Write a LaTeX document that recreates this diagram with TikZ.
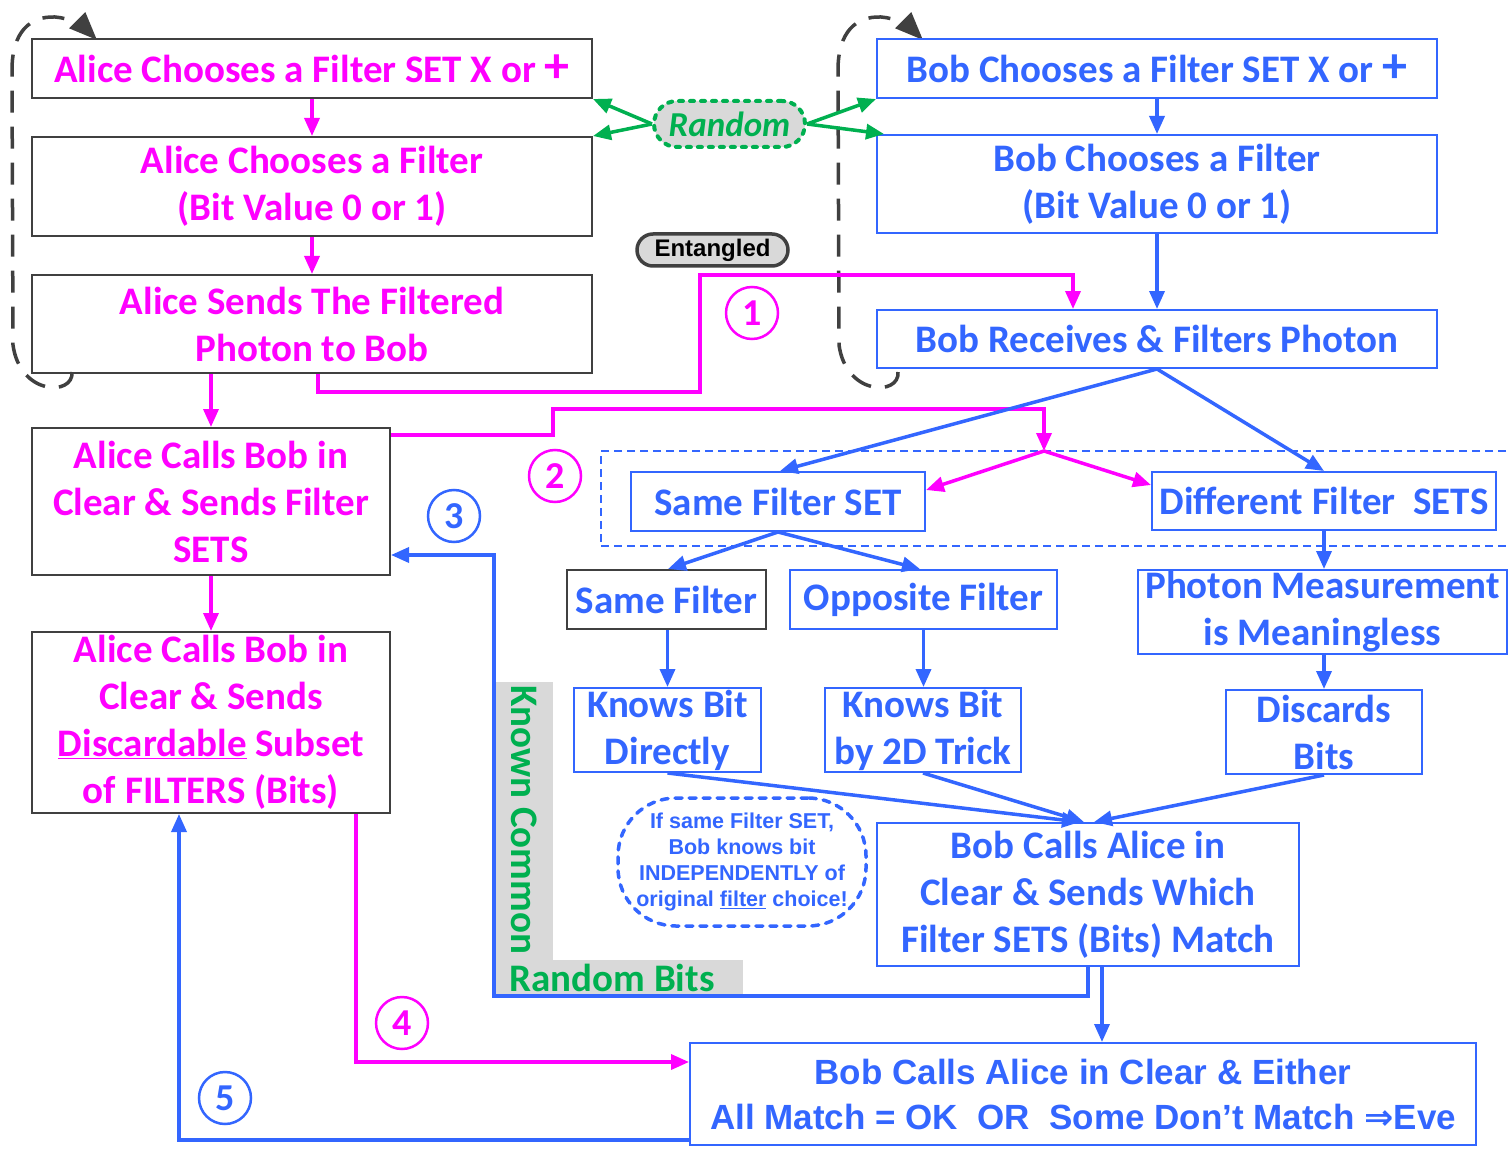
\documentclass[tikz,border=0pt]{standalone}
\usepackage{fontspec}
\setmainfont{Carlito}
\newfontfamily\arialf{Liberation Sans}
\newfontfamily\djv{DejaVu Sans}
\usetikzlibrary{arrows.meta,calc,shapes.geometric}
\definecolor{mag}{HTML}{FF00FF}
\definecolor{bblue}{HTML}{3366FF}
\definecolor{grn}{HTML}{00B050}
\definecolor{dgray}{HTML}{404040}
\definecolor{lgray}{HTML}{D9D9D9}
\newcommand{\bigplus}{{\fontsize{50}{47}\selectfont +}}
\begin{document}
\begin{tikzpicture}[x=1pt,y=-1pt,
  font=\bfseries\fontsize{39}{47}\selectfont,
  box/.style={rectangle, draw, line width=2pt, inner sep=0pt, align=center},
  abox/.style={box, draw=dgray, text=mag},
  bbox/.style={box, draw=bblue, text=bblue},
  tip/.style={-{Triangle[length=18pt,width=15pt]}},
  marr/.style={draw=mag, line width=3.5pt, tip},
  barr/.style={draw=bblue, line width=3.5pt, tip},
  garr/.style={draw=grn, line width=3.5pt, tip},
  num/.style={circle, draw, line width=2.5pt, minimum size=52pt, inner sep=0pt, font=\bfseries\fontsize{38}{38}\selectfont},
  brk/.style={draw=dgray, line width=3.5pt, dash pattern=on 22pt off 14pt, -{Triangle[length=28pt,width=22pt]}},
]
\useasboundingbox (0,0) rectangle (1509,1150);
\fill[white] (0,0) rectangle (1509,1150);

% brackets
\foreach \dx in {0,826}{
  \begin{scope}[xshift=\dx pt]
  \draw[brk] (72,372) .. controls (74,396) and (20,396) .. (13,345) -- (12,70) .. controls (12,32) and (30,16) .. (55,17) .. controls (70,18) and (84,27) .. (97,40);
  \end{scope}
}

% dashed grouping box
\node[draw=bblue, line width=1.3pt, dash pattern=on 8pt off 5pt, minimum width=912pt, minimum height=95pt, inner sep=0pt] (grp) at (1057,498.5) {};

% gray known common random bits
\fill[lgray] (496,682) rectangle (553,960);
\fill[lgray] (496,960) rectangle (743,995);
\node[text=grn, rotate=-90] (kc) at (524,820) {Known Common};
\node[text=grn] (rb) at (612,978) {Random Bits};

% Alice boxes
\node[abox, minimum width=560pt, minimum height=59pt] (A1) at (312,68.5) {Alice Chooses a Filter SET X or \bigplus};
\node[abox, minimum width=560pt, minimum height=99pt] (A2) at (312,186.5) {Alice Chooses a Filter\\(Bit Value 0 or 1)};
\node[abox, minimum width=560pt, minimum height=98pt] (A3) at (312,324) {Alice Sends The Filtered\\Photon to Bob};
\node[abox, minimum width=358pt, minimum height=147pt] (A4) at (211,501.5) {Alice Calls Bob in\\Clear \& Sends Filter\\SETS};
\node[abox, minimum width=358pt, minimum height=181pt] (A5) at (211,722.5) {Alice Calls Bob in\\Clear \& Sends\\\underline{Discardable} Subset\\of FILTERS (Bits)};

% Bob boxes
\node[bbox, minimum width=560pt, minimum height=59pt] (B1) at (1157,68.5) {Bob Chooses a Filter SET X or \bigplus};
\node[bbox, minimum width=560pt, minimum height=98pt] (B2) at (1157,184) {Bob Chooses a Filter\\(Bit Value 0 or 1)};
\node[bbox, minimum width=560pt, minimum height=58pt] (B3) at (1157,339) {Bob Receives \& Filters Photon};
\node[bbox, minimum width=294pt, minimum height=59pt] (SFS) at (778,501.5) {Same Filter SET};
\node[bbox, minimum width=344pt, minimum height=58pt] (DFS) at (1324,501) {Different Filter\ \ SETS};
\node[box, draw=dgray, text=bblue, minimum width=199pt, minimum height=59pt] (SF) at (666.5,599.5) {Same Filter};
\node[bbox, minimum width=267pt, minimum height=59pt] (OF) at (923.5,599.5) {Opposite Filter};
\node[bbox, minimum width=369pt, minimum height=84pt] (PM) at (1322.5,612) {Photon Measurement\\is Meaningless};
\node[bbox, minimum width=187pt, minimum height=84pt] (KBD) at (667.5,730) {Knows Bit\\Directly};
\node[bbox, minimum width=196pt, minimum height=84pt] (KB2) at (923,730) {Knows Bit\\by 2D Trick};
\node[bbox, minimum width=196pt, minimum height=84pt] (DB) at (1324,732) {Discards\\Bits};
\node[bbox, minimum width=422pt, minimum height=143pt] (BCA) at (1088,894.5) {Bob Calls Alice in\\Clear \& Sends Which\\Filter SETS (Bits) Match};
\node[bbox, minimum width=786pt, minimum height=102pt, font=\arialf\bfseries\fontsize{35}{45}\selectfont] (BCE) at (1083,1094) {Bob Calls Alice in Clear \& Either\\All Match = OK\ \ OR\ \ Some Don’t Match {\djv\bfseries ⇒}Eve};

% Random / Entangled / note
\node[draw=grn, fill=lgray, line width=4pt, dash pattern=on 4pt off 7pt, line cap=round, rounded corners=23pt, minimum width=151pt, minimum height=46pt, inner sep=0pt, text=grn, font=\bfseries\itshape\fontsize{35}{35}\selectfont] (R) at (729.5,124) {Random};
\node[draw=dgray, fill=lgray, line width=3.5pt, rounded corners=16pt, minimum width=151pt, minimum height=32pt, inner sep=0pt, font=\arialf\bfseries\fontsize{24}{24}\selectfont] (E) at (712.5,250) {Entangled};
\node[rectangle, rounded corners=58pt, draw=bblue, line width=3.5pt, dash pattern=on 7pt off 7pt, line cap=round, minimum width=248pt, minimum height=128pt, inner sep=0pt, text=bblue, align=center, font=\arialf\bfseries\fontsize{21.5}{26}\selectfont] (note) at (742,862) {If same Filter SET,\\Bob knows bit\\INDEPENDENTLY of\\original \underline{filter} choice!};

% circled numbers
\node[num, draw=mag, text=mag] (n1) at (752,313) {1};
\node[num, draw=mag, text=mag] (n2) at (555,476) {2};
\node[num, draw=bblue, text=bblue] (n3) at (454,516) {3};
\node[num, draw=mag, text=mag] (n4) at (402,1023) {4};
\node[num, draw=bblue, text=bblue] (n5) at (225,1098) {5};

% coordinates
\coordinate (m1) at (700,392);
\coordinate (m2) at (700,275);
\coordinate (m3) at (553,409);
\coordinate (sp) at (1044,451);
\coordinate (b1) at (494,996);
\coordinate (b2) at (1102,966);

% magenta connectors
\draw[marr] (A1.south) -- (A2.north);
\draw[marr] (A2.south) -- (A3.north);
\draw[marr] (A4.north |- A3.south) -- (A4.north);
\draw[marr] ([xshift=6pt]A3.south) |- (m1) -- (m2) -| ([xshift=-84pt]B3.north);
\draw[marr] ([yshift=-8pt]A4.north east) -| (m3) -| (sp);
\draw[marr] (sp) -- ([yshift=11.5pt]SFS.east);
\draw[marr] (sp) -- ([yshift=16pt]DFS.west);
\draw[marr] (A4.south) -- (A5.north);
\draw[marr] ([xshift=145pt]A5.south) |- ([yshift=32pt]BCE.west);

% blue connectors
\draw[barr] (B1.south) -- (B2.north);
\draw[barr] (B2.south) -- (B3.north);
\draw[barr] (B3.south) -- ([xshift=2pt]SFS.north);
\draw[barr] (B3.south) -- (DFS.north);
\draw[barr] (SFS.south) -- ([xshift=1.5pt]SF.north);
\draw[barr] (SFS.south) -- ([xshift=-3.5pt]OF.north);
\draw[barr] ([xshift=1pt]SF.south) -- (KBD.north);
\draw[barr] (OF.south) -- ([xshift=0.5pt]KB2.north);
\draw[barr] (DFS.south) -- ([xshift=1.5pt]PM.north);
\draw[barr] ([xshift=1.5pt]PM.south) -- (DB.north);
\draw[barr] (KBD.south) -- ([xshift=-8pt]BCA.north);
\draw[barr] (KB2.south) -- ([xshift=-4pt]BCA.north);
\draw[barr] (DB.south) -- ([xshift=6pt]BCA.north);
\draw[barr] (BCA.south) |- (b1) |- ([yshift=-53.5pt]A4.east);
\draw[barr] (b2) -- (b2 |- BCE.north);
\draw[barr] ([yshift=-46pt]BCE.west) -| ([xshift=-32pt]A5.south);

% green connectors
\draw[garr] (R.west) -- (A1.south east);
\draw[garr] (R.west) -- (A2.north east);
\draw[garr] (R.east) -- (B1.south west);
\draw[garr] (R.east) -- ([xshift=8pt]B2.north west);
\end{tikzpicture}
\end{document}
